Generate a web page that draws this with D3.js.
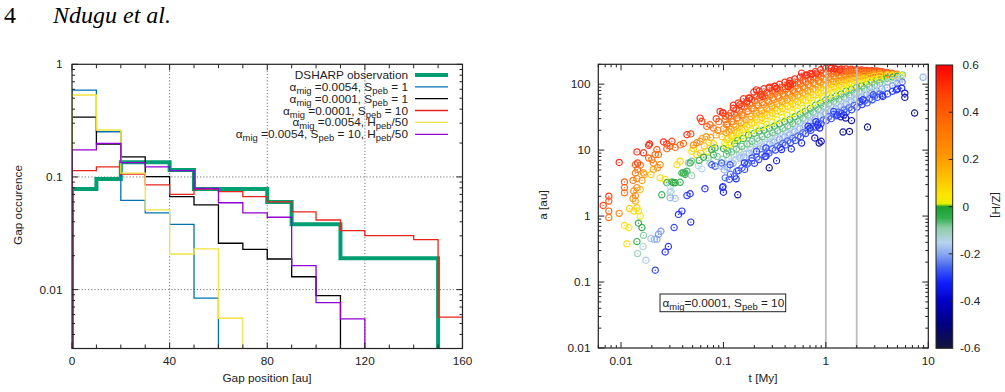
<!DOCTYPE html>
<html>
<head>
<meta charset="utf-8">
<script src="https://cdn.jsdelivr.net/npm/d3@7"></script>
<style>
  body { margin: 0; background: #fff; }
  svg { display: block; }
  text { font-family: "Liberation Sans", Arial, sans-serif; fill: #222; white-space: pre; }
</style>
</head>
<body>
<div id="chart"></div>
<script>
// ---------- left panel: gap occurrence histograms ----------
const gapEdges = [0, 10, 20, 30, 40, 50, 60, 70, 80, 90, 100, 110, 120, 130, 140, 150, 160];
const dsharpOcc      = [0.078, 0.096, 0.135, 0.135, 0.115, 0.078, 0.078, 0.078, 0.060, 0.038, 0.038, 0.019, 0.019, 0.019, 0.019, 0];
const occA0054S1     = [0.59, 0.252, 0.062, 0.048, 0.038, 0.0084, 0, 0, 0, 0, 0, 0, 0, 0, 0, 0];
const occA0001S1     = [0.339, 0.196, 0.151, 0.1006, 0.0669, 0.0565, 0.0258, 0.0228, 0.0187, 0.013, 0.00885, 0, 0, 0, 0, 0];
const occA0001S10    = [0.114, 0.123, 0.106, 0.085, 0.070, 0.078, 0.074, 0.067, 0.060, 0.049, 0.0415, 0.0334, 0.0301, 0.0301, 0.0278, 0.0057];
const occA0054H50    = [0.534, 0.261, 0.108, 0.051, 0.0207, 0.023, 0.00557, 0, 0, 0, 0, 0, 0, 0, 0, 0];
const occA0054S10H50 = [0.174, 0.199, 0.134, 0.123, 0.114, 0.079, 0.059, 0.048, 0.0439, 0.0163, 0.00767, 0.0055, 0, 0, 0, 0];

const occSeries = [dsharpOcc, occA0054S1, occA0001S1, occA0001S10, occA0054H50, occA0054S10H50];
const occColors = ['#009e73', '#0072b2', '#000000', '#e8241a', '#f0e442', '#9400d3'];
const occWidths = [4, 1.3, 1.3, 1.3, 1.3, 1.3];
// legend labels: [text, isSubscript]
const occNames = [
  [['DSHARP observation']],
  [['α'], ['mig', 1], [' =0.0054, S'], ['peb', 1], [' = 1']],
  [['α'], ['mig', 1], [' =0.0001, S'], ['peb', 1], [' = 1']],
  [['α'], ['mig', 1], [' =0.0001, S'], ['peb', 1], [' = 10']],
  [['α'], ['mig', 1], [' =0.0054, H'], ['peb', 1], ['/50']],
  [['α'], ['mig', 1], [' =0.0054, S'], ['peb', 1], [' = 10, H'], ['peb', 1], ['/50']]
];
const gapTickLabels = [0, 40, 80, 120, 160];
const occTickLabels = [1, 0.1, 0.01];

// ---------- right panel: a vs t coloured by [Z/H] ----------
// [t (My), a (au), [Z/H]]
const sparsePts = [
  [0.0067,1.45,0.5],[0.0076,2.0,0.52],[0.0076,1.69,0.45],[0.0076,1.19,0.42],[0.0076,0.95,0.38],
  [0.0096,1.1,0.32],[0.0096,6.5,0.55],[0.0108,3.3,0.45],[0.0108,2.7,0.42],[0.0108,2.25,0.38],
  [0.0108,0.72,0.06],[0.0119,0.67,0.05],[0.0114,0.38,0.06],[0.0121,1.3,0.12],[0.0133,1.19,0.08],
  [0.0143,1.34,0.1],[0.0138,1.69,0.18],[0.0131,1.85,0.25],[0.0138,2.05,0.28],[0.0133,2.4,0.3],
  [0.0143,2.7,0.3],[0.0154,2.53,0.15],[0.0131,3.47,0.35],[0.0143,3.7,0.3],[0.016,3.47,0.22],
  [0.0138,4.5,0.35],[0.0145,5.1,0.38],[0.0166,4.5,0.25],[0.0169,4.27,0.2],[0.0138,6.0,0.45],
  [0.0145,6.4,0.5],[0.0154,5.9,0.4],[0.0166,9.1,0.55],[0.0143,9.4,0.55],[0.019,12.4,0.55],
  [0.0186,11.8,0.55],[0.0224,10.2,0.45],[0.0216,8.6,0.38],[0.0232,8.6,0.4],[0.0186,7.6,0.42],
  [0.02,7.2,0.35],[0.0207,6.4,0.3],[0.0196,4.27,0.12],[0.0207,5.1,0.2],[0.0227,5.4,0.25],
  [0.0241,6.0,0.3],[0.026,13.3,0.55],[0.028,12.4,0.5],[0.0314,13.6,0.52],[0.028,10.5,0.42],
  [0.0302,11.5,0.45],[0.0338,11.0,0.4],[0.0378,12.0,0.38],[0.0407,12.6,0.4],[0.0241,3.8,0.08],
  [0.027,3.58,0.06],[0.028,3.2,-0.02],[0.0302,2.84,-0.15],[0.0314,3.3,-0.03],[0.0338,3.2,0.0],
  [0.0351,6.0,0.08],[0.0378,6.8,0.1],[0.0407,4.5,-0.02],[0.044,4.8,-0.04],[0.0423,4.27,-0.03],
  [0.0455,6.4,-0.1],[0.049,6.8,-0.08],[0.049,9.6,0.05],[0.051,10.5,0.08],[0.0154,1.0,0.05],
  [0.0148,1.19,0.06],[0.0148,0.78,-0.02],[0.016,0.67,-0.01],[0.0143,0.41,-0.03],[0.0166,0.51,-0.08],
  [0.0145,0.27,-0.1],[0.0164,0.345,-0.13],[0.0175,0.214,-0.17],[0.0196,0.456,-0.17],[0.0212,0.445,-0.19],
  [0.0224,0.445,-0.2],[0.0232,0.53,-0.22],[0.0245,0.59,-0.22],[0.0216,0.151,-0.3],[0.027,0.286,-0.32],
  [0.029,0.345,-0.32],[0.033,0.67,-0.3],[0.0364,1.06,-0.32],[0.0393,1.19,-0.33],[0.048,0.81,-0.34],
  [0.0338,1.85,-0.18],[0.0302,1.9,-0.2],[0.044,2.05,-0.3],[0.0473,2.18,-0.32],[0.066,2.6,-0.32],
  [0.025,2.1,-0.03],[0.0302,2.3,-0.12],[0.031,2.4,-0.15],[0.0325,3.2,0.0],[0.0378,3.25,-0.02],
  [0.0393,4.5,-0.03],[0.0423,4.5,-0.05],[0.0473,6.4,-0.02],[0.049,4.1,-0.1],[0.057,5.8,-0.14],
  [0.0615,5.2,-0.15],[0.071,7.6,-0.08],[0.074,6.4,-0.12],[0.0769,6.0,-0.28],[0.0828,5.7,-0.3],
  [0.044,17.1,0.55],[0.048,17.6,0.5],[0.0592,30.6,0.55],[0.0615,27.2,0.52],[0.0688,22.9,0.42],
  [0.074,24.3,0.4],[0.0798,21.6,0.38],[0.051,12.0,0.3],[0.055,12.9,0.3],[0.0592,13.6,0.28],
  [0.062,15,0.2],[0.068,16,0.25],[0.075,15.5,0.22],[0.0688,9.6,0.02],[0.0769,10.2,0.0],
  [0.0828,10.8,-0.02],[0.09,6.0,-0.15],[0.095,5.7,-0.18],[0.0927,38.6,0.55],[0.0998,36.5,0.55],
  [0.055,8.5,0.1],[0.06,9,0.12],[0.065,11.5,0.15],[0.072,13,0.1],[0.08,12.5,0.08],
  [0.085,17,0.2],[0.088,20,0.3],[0.09,27,0.42],[0.085,30,0.5],[0.058,7.0,-0.03],
  [0.064,7.8,-0.02],[0.08,8.5,-0.05],[0.087,8.0,-0.08]
];
const bandPts = [
  [0.098,37,0.55],[0.104,29,0.42],[0.1,21,0.3],[0.097,16,0.15],[0.103,13,0.05],[0.1,10.5,-0.02],[0.097,7.2,-0.1],[0.102,5,-0.2],[0.099,2.8,-0.32],
  [0.113,33,0.5],[0.11,25,0.35],[0.114,19,0.22],[0.111,15,0.1],[0.115,12,0.03],[0.11,9.8,-0.05],[0.113,7.5,-0.14],[0.11,5.5,-0.22],[0.114,3.6,-0.3],
  [0.125,48,0.55],[0.128,35,0.45],[0.124,27,0.3],[0.127,20,0.18],[0.125,16.5,0.06],[0.129,12.6,-0.02],[0.126,8.5,-0.12],[0.124,6.3,-0.2],[0.128,4,-0.3],
  [0.14,52,0.52],[0.143,40,0.4],[0.139,31,0.28],[0.144,23,0.15],[0.141,18,0.05],[0.138,14,-0.02],[0.142,10,-0.1],[0.145,7.6,-0.2],[0.14,4.9,-0.3],
  [0.157,60,0.55],[0.16,45,0.42],[0.155,33,0.28],[0.159,25,0.15],[0.162,21,0.05],[0.156,15,-0.02],[0.16,10.5,-0.12],[0.158,7.8,-0.2],[0.161,5.1,-0.3],
  [0.177,62,0.5],[0.18,50,0.4],[0.175,39,0.3],[0.182,29,0.16],[0.178,24,0.06],[0.176,17,-0.01],[0.181,12.5,-0.11],[0.179,9,-0.2],[0.174,6.4,-0.28],
  [0.198,76,0.55],[0.202,56,0.42],[0.197,42,0.28],[0.204,32,0.15],[0.2,26,0.05],[0.199,18,-0.02],[0.203,12.6,-0.12],[0.198,9.5,-0.2],[0.201,6.3,-0.3],
  [0.223,79,0.52],[0.227,62,0.4],[0.22,47,0.26],[0.226,35,0.14],[0.229,29,0.05],[0.222,19.5,-0.03],[0.225,14,-0.12],[0.228,10.5,-0.22],[0.221,7.2,-0.3],
  [0.248,85,0.55],[0.253,66,0.42],[0.247,49,0.28],[0.251,37,0.15],[0.255,30,0.05],[0.249,20,-0.02],[0.252,14.8,-0.12],[0.246,11.2,-0.2],[0.254,8,-0.3],
  [0.28,90,0.53],[0.285,70,0.4],[0.279,54,0.3],[0.284,41,0.15],[0.288,33,0.04],[0.281,21.5,-0.02],[0.286,16,-0.13],[0.283,12.3,-0.21],[0.278,9,-0.3],
  [0.315,93,0.55],[0.32,76,0.42],[0.312,58,0.28],[0.318,44,0.15],[0.322,35.5,0.05],[0.314,23,-0.02],[0.319,17,-0.12],[0.313,13.2,-0.2],[0.321,10,-0.3],
  [0.353,100,0.54],[0.358,80,0.4],[0.351,62,0.28],[0.356,47,0.15],[0.36,38,0.05],[0.352,25,-0.02],[0.357,18.5,-0.12],[0.354,14.5,-0.22],[0.359,11,-0.3],
  [0.398,107,0.55],[0.402,85,0.42],[0.396,66,0.28],[0.404,51,0.15],[0.4,42,0.05],[0.397,27,-0.02],[0.403,20,-0.12],[0.399,15.8,-0.2],[0.401,12,-0.3],
  [0.445,113,0.55],[0.45,90,0.4],[0.443,71,0.3],[0.448,56,0.15],[0.452,45,0.05],[0.446,29,-0.02],[0.449,22,-0.13],[0.444,17,-0.21],[0.451,13,-0.3],
  [0.497,120,0.55],[0.503,95,0.42],[0.495,76,0.28],[0.501,60,0.15],[0.505,48,0.05],[0.499,32,-0.02],[0.502,24,-0.12],[0.496,19,-0.2],[0.504,14,-0.3],
  [0.56,127,0.55],[0.565,102,0.42],[0.558,81,0.28],[0.563,65,0.15],[0.567,52,0.05],[0.561,35,-0.02],[0.564,26,-0.12],[0.559,21,-0.2],[0.566,16,-0.3],
  [0.628,135,0.55],[0.633,110,0.42],[0.625,87,0.28],[0.631,71,0.15],[0.635,56,0.05],[0.629,39,-0.02],[0.632,29.5,-0.12],[0.627,23.5,-0.2],[0.634,17.8,-0.3],
  [0.705,145,0.55],[0.71,118,0.42],[0.703,93,0.28],[0.709,76,0.15],[0.712,62,0.05],[0.706,43,-0.02],[0.711,33,-0.12],[0.704,26,-0.2],[0.713,20,-0.3],
  [0.79,155,0.55],[0.797,126,0.42],[0.788,100,0.28],[0.795,83,0.15],[0.8,68,0.05],[0.792,48,-0.02],[0.796,36,-0.12],[0.789,29.5,-0.2],[0.798,22.4,-0.3],
  [0.888,165,0.55],[0.894,133,0.42],[0.886,107,0.28],[0.892,89,0.15],[0.897,73,0.05],[0.889,52,-0.02],[0.893,40,-0.12],[0.887,33,-0.2],[0.895,25,-0.3],
  [0.995,174,0.55],[1.005,141,0.42],[0.99,115,0.28],[1.0,95,0.15],[1.01,79,0.05],[0.998,57.5,-0.02],[1.003,44.7,-0.12],[0.993,36,-0.2],[1.008,28,-0.3],
  [1.12,172,0.55],[1.125,145,0.42],[1.115,119,0.28],[1.122,99,0.15],[1.128,84,0.05],[1.118,62,-0.02],[1.123,48,-0.12],[1.116,39,-0.2],[1.127,30,-0.3],
  [1.255,170,0.55],[1.262,148,0.42],[1.25,123,0.28],[1.258,105,0.15],[1.265,89,0.05],[1.252,66,-0.02],[1.26,52,-0.12],[1.254,42.7,-0.2],[1.264,33,-0.3],
  [1.41,170,0.55],[1.415,152,0.42],[1.405,128,0.28],[1.412,110,0.15],[1.42,94,0.05],[1.407,71,-0.02],[1.413,56,-0.12],[1.408,46,-0.2],[1.418,36,-0.3],
  [1.575,170,0.55],[1.585,155,0.42],[1.57,132,0.28],[1.58,115,0.15],[1.59,100,0.05],[1.578,78,-0.02],[1.583,60,-0.12],[1.573,50,-0.2],[1.588,38,-0.3],
  [1.77,168,0.55],[1.78,157,0.42],[1.765,137,0.28],[1.775,120,0.15],[1.785,106,0.05],[1.772,83,-0.02],[1.778,66,-0.12],[1.768,55,-0.2],[1.783,41,-0.3],
  [1.99,166,0.55],[2.01,158,0.42],[1.98,141,0.28],[2.0,126,0.15],[2.02,112,0.05],[1.995,89,-0.02],[2.005,71,-0.12],[1.985,60,-0.2],[2.015,45,-0.3],
  [2.23,164,0.55],[2.25,157,0.42],[2.22,141,0.28],[2.24,129,0.15],[2.26,117,0.05],[2.235,94,-0.02],[2.245,76,-0.12],[2.225,64,-0.2],[2.255,49,-0.3],
  [2.5,162,0.55],[2.52,155,0.42],[2.49,141,0.28],[2.51,132,0.15],[2.53,123,0.05],[2.505,100,-0.02],[2.515,83,-0.12],[2.495,69,-0.2],[2.525,52,-0.3],
  [2.8,160,0.55],[2.83,153,0.42],[2.79,143,0.28],[2.82,137,0.15],[2.84,127,0.05],[2.81,107,-0.02],[2.825,89,-0.12],[2.8,74,-0.2],[2.835,58,-0.3],
  [3.14,158,0.55],[3.17,151,0.42],[3.13,145,0.28],[3.16,141,0.15],[3.18,132,0.05],[3.15,115,-0.02],[3.165,95,-0.12],[3.14,79,-0.2],[3.175,63,-0.3],
  [3.53,155,0.52],[3.56,148,0.4],[3.52,143,0.28],[3.55,140,0.15],[3.57,134,0.05],[3.54,120,-0.02],[3.555,102,-0.12],[3.53,85,-0.2],[3.565,68,-0.3],
  [3.96,151,0.5],[4.0,146,0.4],[3.95,142,0.28],[3.98,139,0.15],[4.01,135,0.05],[3.97,123,-0.02],[3.985,107,-0.12],[3.96,89,-0.2],[4.0,71,-0.3],
  [4.45,146,0.48],[4.48,141,0.3],[4.44,138,0.15],[4.47,136,0.05],[4.5,128,-0.02],[4.46,115,-0.12],[4.49,95,-0.22],[4.46,78,-0.3],
  [4.98,141,0.4],[5.02,138,0.2],[4.96,136,0.05],[5.0,132,-0.02],[5.03,120,-0.12],[4.99,102,-0.22],[5.01,85,-0.3],
  [5.6,138,-0.08],[5.5,134,0.02],[5.45,125,-0.15],[5.55,108,-0.25]
];
const bandMidPts = [
  [0.105,32.7,0.48],[0.107,24.3,0.35],[0.106,18.2,0.22],[0.108,14.5,0.1],[0.105,11.7,0.02],[0.107,8.6,-0.07],[0.106,6.0,-0.16],[0.104,3.8,-0.26],
  [0.118,36.7,0.48],[0.12,27.2,0.35],[0.119,20.4,0.22],[0.121,16.2,0.1],[0.118,13,0.02],[0.12,9.4,-0.07],[0.119,6.6,-0.16],[0.117,4.3,-0.26],
  [0.133,41.2,0.48],[0.135,30.5,0.35],[0.132,22.9,0.22],[0.134,18.2,0.1],[0.131,14.5,0.02],[0.134,10.4,-0.07],[0.132,7.3,-0.16],[0.135,4.8,-0.26],
  [0.15,46.2,0.48],[0.151,34.3,0.35],[0.148,25.7,0.22],[0.152,20.4,0.1],[0.149,15.8,0.02],[0.151,11.4,-0.07],[0.149,8.1,-0.16],[0.152,5.4,-0.26],
  [0.168,51.9,0.48],[0.17,38.5,0.35],[0.166,28.8,0.22],[0.169,22.9,0.1],[0.167,17.6,0.02],[0.17,12.4,-0.07],[0.167,9.0,-0.16],[0.169,6.1,-0.26],
  [0.188,58.2,0.48],[0.19,43.2,0.35],[0.186,32.4,0.22],[0.189,25.7,0.1],[0.187,19.5,0.02],[0.19,13.6,-0.07],[0.187,10,-0.16],[0.189,6.9,-0.26],
  [0.211,65.3,0.48],[0.213,48.4,0.35],[0.209,36.3,0.22],[0.212,28.8,0.1],[0.21,21.6,0.02],[0.213,15,-0.07],[0.21,11,-0.16],[0.212,7.8,-0.26],
  [0.237,70,0.48],[0.239,52.5,0.35],[0.235,39.4,0.22],[0.238,30.9,0.1],[0.236,22.9,0.02],[0.239,16,-0.07],[0.236,11.9,-0.16],[0.238,8.5,-0.26],
  [0.266,75,0.48],[0.268,56.9,0.35],[0.264,42.7,0.22],[0.267,33.5,0.1],[0.265,24.5,0.02],[0.268,17.2,-0.07],[0.265,12.9,-0.16],[0.267,9.4,-0.26],
  [0.299,79.4,0.48],[0.301,61.7,0.35],[0.297,46.2,0.22],[0.3,36.3,0.1],[0.298,26.3,0.02],[0.301,18.4,-0.07],[0.298,13.8,-0.16],[0.3,10.5,-0.26],
  [0.335,84.1,0.48],[0.338,66,0.35],[0.333,50.1,0.22],[0.336,39.4,0.1],[0.334,28.5,0.02],[0.337,19.7,-0.07],[0.334,15,-0.16],[0.336,11.5,-0.26],
  [0.376,89.7,0.48],[0.379,70.5,0.35],[0.374,54,0.22],[0.377,42.7,0.1],[0.375,30.9,0.02],[0.378,21.4,-0.07],[0.375,16.3,-0.16],[0.377,12.6,-0.26],
  [0.422,95.5,0.48],[0.425,75,0.35],[0.42,58.2,0.22],[0.423,46.2,0.1],[0.421,33.5,0.02],[0.424,23.2,-0.07],[0.421,17.8,-0.16],[0.423,13.8,-0.26],
  [0.473,101,0.48],[0.476,80,0.35],[0.471,62.8,0.22],[0.474,49.9,0.1],[0.472,36.1,0.02],[0.475,25.3,-0.07],[0.472,19.5,-0.16],[0.474,15.1,-0.26],
  [0.531,107,0.48],[0.534,85,0.35],[0.529,67.6,0.22],[0.532,53.7,0.1],[0.53,38.9,0.02],[0.533,27.5,-0.07],[0.53,21.4,-0.16],[0.532,16.4,-0.26],
  [0.596,114,0.48],[0.599,91,0.35],[0.594,73,0.22],[0.597,58.2,0.1],[0.595,42.7,0.02],[0.598,30.5,-0.07],[0.595,23.7,-0.16],[0.597,18.3,-0.26],
  [0.668,122,0.48],[0.671,98,0.35],[0.666,78.5,0.22],[0.669,63,0.1],[0.667,46.8,0.02],[0.67,33.9,-0.07],[0.667,26.3,-0.16],[0.669,20.4,-0.26],
  [0.75,130,0.48],[0.753,105,0.35],[0.748,84.7,0.22],[0.751,68.9,0.1],[0.749,51.6,0.02],[0.752,37.6,-0.07],[0.749,29.4,-0.16],[0.751,22.9,-0.26],
  [0.841,140,0.48],[0.845,112,0.35],[0.838,91,0.22],[0.842,75,0.1],[0.84,56.9,0.02],[0.844,41.7,-0.07],[0.84,32.7,-0.16],[0.843,25.7,-0.26],
  [0.944,148,0.48],[0.948,120,0.35],[0.941,98,0.22],[0.945,81,0.1],[0.943,62,0.02],[0.947,46,-0.07],[0.943,36.3,-0.16],[0.946,28.7,-0.26],
  [1.06,157,0.48],[1.065,127,0.35],[1.057,105,0.22],[1.062,87,0.1],[1.059,67.6,0.02],[1.064,50.7,-0.07],[1.059,40.3,-0.16],[1.062,32,-0.26],
  [1.19,158,0.48],[1.195,131,0.35],[1.186,109,0.22],[1.192,92,0.1],[1.188,72,0.02],[1.194,54.7,-0.07],[1.188,43.7,-0.16],[1.192,34.7,-0.26],
  [1.33,158,0.48],[1.336,135,0.35],[1.327,114,0.22],[1.333,97,0.1],[1.329,77,0.02],[1.335,59,-0.07],[1.329,47.3,-0.16],[1.333,37.6,-0.26],
  [1.5,160,0.48],[1.506,139,0.35],[1.496,118,0.22],[1.503,102,0.1],[1.498,82,0.02],[1.505,63.5,-0.07],[1.498,51,-0.16],[1.503,40.5,-0.26],
  [1.68,162,0.48],[1.687,143,0.35],[1.676,123,0.22],[1.683,107,0.1],[1.678,88,0.02],[1.686,68,-0.07],[1.678,55,-0.16],[1.683,43.7,-0.26],
  [1.88,162,0.48],[1.888,146,0.35],[1.876,128,0.22],[1.884,113,0.1],[1.878,94,0.02],[1.886,74,-0.07],[1.878,60,-0.16],[1.884,47.6,-0.26],
  [2.11,162,0.48],[2.12,150,0.35],[2.105,133,0.22],[2.115,119,0.1],[2.108,100,0.02],[2.118,79,-0.07],[2.108,65,-0.16],[2.115,52,-0.26],
  [2.37,160,0.48],[2.38,149,0.35],[2.365,135,0.22],[2.375,123,0.1],[2.368,105,0.02],[2.378,85,-0.07],[2.368,70.5,-0.16],[2.375,56,-0.26],
  [2.66,158,0.48],[2.67,148,0.35],[2.655,136,0.22],[2.665,127,0.1],[2.658,111,0.02],[2.668,91,-0.07],[2.658,76,-0.16],[2.665,60,-0.26],
  [2.98,157,0.48],[2.99,148,0.35],[2.975,140,0.22],[2.985,132,0.1],[2.978,117,0.02],[2.988,98,-0.07],[2.978,81,-0.16],[2.985,65,-0.26],
  [3.35,155,0.48],[3.36,148,0.35],[3.345,143,0.22],[3.355,136,0.1],[3.348,123,0.02],[3.358,105,-0.07],[3.348,87,-0.16],[3.355,71,-0.26]
];
const bluePts = [
  [0.28,5.4,-0.48],[0.138,2.1,-0.45],[0.133,3.67,-0.33],[0.1,2.3,-0.35],[0.098,2.7,-0.32],
  [0.33,6.9,-0.35],[0.26,8.1,-0.33],[0.19,7.6,-0.3],[0.16,6.4,-0.32],[0.116,6.0,-0.3],
  [0.096,6.4,-0.28],[0.21,9.6,-0.3],[0.26,10.8,-0.3],[0.37,10.2,-0.33],[0.46,10.4,-0.35],
  [0.58,12.8,-0.35],[0.78,15.3,-0.45],[0.86,12.8,-0.42],[0.9,13.6,-0.45],[0.8,27,-0.33],
  [0.83,24,-0.35],[0.87,21.6,-0.36],[0.67,23,-0.33],[0.7,21.6,-0.34],[1.19,38.5,-0.3],
  [1.3,34,-0.32],[1.4,32,-0.35],[1.5,34,-0.33],[1.56,30.6,-0.45],[1.78,28,-0.47],
  [2.14,54.6,-0.3],[2.3,58,-0.32],[2.9,69,-0.3],[3.6,65,-0.33],[4.9,82,-0.33],
  [5.5,87,-0.35],[5.9,73,-0.4],[5.9,63,-0.42],[5.0,109,-0.15],[8.9,127,-0.2],
  [7.35,36.5,-0.5],[2.55,22.4,-0.5],[1.7,19.2,-0.48],[1.47,18.8,-0.5]
];
const redTopPts = [
  [1.13,178,0.58],[1.22,170,0.57],[1.37,164,0.55],[0.58,147,0.58],[0.65,138,0.56],
  [0.73,142,0.57],[0.81,147,0.56],[0.44,103,0.57],[0.45,97.5,0.55],[0.43,92,0.55],
  [0.21,82,0.58],[0.28,87,0.56],[0.32,92,0.56],[0.33,87,0.55],[0.17,55,0.55],
  [0.18,61,0.57],[0.145,49,0.55],[0.125,43,0.55],[0.23,69,0.55],[0.24,65,0.53]
];
const markTimes = [1, 2];
const zStops  = [-0.6, -0.5, -0.4, -0.32, -0.26, -0.2, -0.15, -0.09, -0.05, 0, 0.012, 0.05, 0.15, 0.22, 0.36, 0.47, 0.6];
const zColors = ['#15153a', '#000080', '#0000c8', '#1020ff', '#4060f0', '#88a8f0', '#b8d4ec', '#8ccca8', '#33b050', '#1aa030',
                 '#e8f000', '#ffe400', '#ffb400', '#ff9400', '#ff6a00', '#ff4400', '#ff0000'];
const zTickLabels = [0.6, 0.4, 0.2, 0, -0.2, -0.4, -0.6];

// ---------- drawing ----------
const width = 1005, height = 392;
const svg = d3.select('#chart').append('svg').attr('width', width).attr('height', height);

svg.append('text').attr('x', 4).attr('y', 23).attr('font-size', 24)
  .style('font-family', '"Liberation Serif", "Times New Roman", serif').style('fill', '#000').text('4');
svg.append('text').attr('x', 53).attr('y', 23).attr('font-size', 24).attr('font-style', 'italic')
  .style('font-family', '"Liberation Serif", "Times New Roman", serif').style('fill', '#000').text('Ndugu et al.');

function rich(sel, parts, fs) {
  let shift = 0;
  parts.forEach(([s, sub]) => {
    const want = sub ? 3 : 0;
    sel.append('tspan').attr('dy', want - shift).attr('font-size', sub ? fs * 0.8 : fs).text(s);
    shift = want;
  });
}
const fmt = d => String(+d.toPrecision(6));

// left panel
const lb = { left: 72, right: 462.5, top: 64.3, bottom: 348.5 };
const x1 = d3.scaleLinear().domain([0, 160]).range([lb.left, lb.right]);
const y1 = d3.scaleLog().domain([0.003, 1]).range([lb.bottom, lb.top]);
const left = svg.append('g');

left.append('clipPath').attr('id', 'clipL').append('rect')
  .attr('x', lb.left).attr('y', lb.top).attr('width', lb.right - lb.left).attr('height', lb.bottom - lb.top);

const grid = left.append('g').attr('stroke', '#777').attr('stroke-width', 1).attr('stroke-dasharray', '1.2,2');
grid.selectAll('line.v').data([40, 80, 120]).join('line')
  .attr('x1', d => x1(d)).attr('x2', d => x1(d)).attr('y1', lb.top).attr('y2', lb.bottom);
grid.selectAll('line.h').data([0.1, 0.01]).join('line').attr('class', 'h')
  .attr('x1', lb.left).attr('x2', lb.right).attr('y1', d => y1(d)).attr('y2', d => y1(d));

const stepLine = d3.line().x(d => x1(d[0])).y(d => y1(Math.max(d[1], 0.003)));
function stepPoints(vals) {
  let last = vals.length - 1;
  while (last > 0 && vals[last] === 0) last--;
  const pts = [[0, 0.003]];
  for (let i = 0; i <= last; i++) pts.push([gapEdges[i], vals[i]], [gapEdges[i + 1], vals[i]]);
  pts.push([gapEdges[last + 1], 0.003]);
  return pts;
}
left.append('g').attr('clip-path', 'url(#clipL)')
  .selectAll('path').data(occSeries).join('path')
  .attr('d', d => stepLine(stepPoints(d)))
  .attr('fill', 'none')
  .attr('stroke', (d, i) => occColors[i])
  .attr('stroke-width', (d, i) => occWidths[i]);

// ticks left panel
const tk1 = left.append('g').attr('stroke', '#222').attr('stroke-width', 1);
gapEdges.forEach(v => {
  const len = gapTickLabels.includes(v) ? 6 : 4;
  tk1.append('line').attr('x1', x1(v)).attr('x2', x1(v)).attr('y1', lb.bottom).attr('y2', lb.bottom - len);
  tk1.append('line').attr('x1', x1(v)).attr('x2', x1(v)).attr('y1', lb.top).attr('y2', lb.top + len);
});
y1.ticks().forEach(v => {
  const len = occTickLabels.includes(+v.toPrecision(3)) ? 6 : 3;
  tk1.append('line').attr('x1', lb.left).attr('x2', lb.left + len).attr('y1', y1(v)).attr('y2', y1(v));
  tk1.append('line').attr('x1', lb.right).attr('x2', lb.right - len).attr('y1', y1(v)).attr('y2', y1(v));
});
left.append('rect').attr('x', lb.left).attr('y', lb.top).attr('width', lb.right - lb.left)
  .attr('height', lb.bottom - lb.top).attr('fill', 'none').attr('stroke', '#222').attr('stroke-width', 1.2);

left.selectAll('text.xl').data(gapTickLabels).join('text').attr('class', 'xl')
  .attr('x', d => x1(d)).attr('y', 365).attr('text-anchor', 'middle').attr('font-size', 11.8).text(d => d);
left.selectAll('text.yl').data(occTickLabels).join('text').attr('class', 'yl')
  .attr('x', 62.5).attr('y', d => y1(d) + 4).attr('text-anchor', 'end').attr('font-size', 11.8).text(fmt);
left.append('text').attr('transform', 'translate(21.5,205) rotate(-90)').attr('text-anchor', 'middle')
  .attr('font-size', 11.8).text('Gap occurence');
left.append('text').attr('x', 267).attr('y', 382).attr('text-anchor', 'middle')
  .attr('font-size', 11.8).text('Gap position [au]');

// legend
const legRows = [75, 86.9, 98.7, 110.5, 122.4, 134.3];
occNames.forEach((parts, i) => {
  const t = left.append('text').attr('x', 408).attr('y', legRows[i] + 4).attr('text-anchor', 'end');
  rich(t, parts, 11.8);
  left.append('line').attr('x1', 415).attr('x2', 448).attr('y1', legRows[i]).attr('y2', legRows[i])
    .attr('stroke', occColors[i]).attr('stroke-width', occWidths[i]);
});

// right panel
const rb = { left: 598.3, right: 928.3, top: 64.3, bottom: 348 };
const x2 = d3.scaleLog().domain([0.006, 10]).range([rb.left, rb.right]);
const y2 = d3.scaleLog().domain([0.01, 200]).range([rb.bottom, rb.top]);
const zColor = d3.scaleLinear().domain(zStops).range(zColors).clamp(true);
const right = svg.append('g');
right.append('clipPath').attr('id', 'clipR').append('rect')
  .attr('x', rb.left).attr('y', rb.top).attr('width', rb.right - rb.left).attr('height', rb.bottom - rb.top);

const allPts = sparsePts.concat(bandPts, bandMidPts, bluePts, redTopPts);
const ptG = right.append('g').attr('clip-path', 'url(#clipR)').attr('opacity', 0.9);
const pt = ptG.selectAll('g').data(allPts).join('g')
  .attr('transform', d => `translate(${x2(d[0])},${y2(d[1])})`);
pt.append('circle').attr('r', 3.1).attr('fill', 'none').attr('stroke', d => zColor(d[2])).attr('stroke-width', 1.2);
pt.append('circle').attr('r', 0.7).attr('fill', d => zColor(d[2]));

right.selectAll('line.mark').data(markTimes).join('line').attr('class', 'mark')
  .attr('x1', d => x2(d)).attr('x2', d => x2(d)).attr('y1', rb.top).attr('y2', rb.bottom)
  .attr('stroke', '#bdbdbd').attr('stroke-width', 1.8);

const tk2 = right.append('g').attr('stroke', '#222').attr('stroke-width', 1);
const isPow10 = v => Math.abs(Math.log10(v) - Math.round(Math.log10(v))) < 1e-6;
x2.ticks().forEach(v => {
  const len = isPow10(v) ? 6 : 3;
  tk2.append('line').attr('x1', x2(v)).attr('x2', x2(v)).attr('y1', rb.bottom).attr('y2', rb.bottom - len);
  tk2.append('line').attr('x1', x2(v)).attr('x2', x2(v)).attr('y1', rb.top).attr('y2', rb.top + len);
});
y2.ticks().forEach(v => {
  const len = isPow10(v) ? 6 : 3;
  tk2.append('line').attr('x1', rb.left).attr('x2', rb.left + len).attr('y1', y2(v)).attr('y2', y2(v));
  tk2.append('line').attr('x1', rb.right).attr('x2', rb.right - len).attr('y1', y2(v)).attr('y2', y2(v));
});
right.append('rect').attr('x', rb.left).attr('y', rb.top).attr('width', rb.right - rb.left)
  .attr('height', rb.bottom - rb.top).attr('fill', 'none').attr('stroke', '#222').attr('stroke-width', 1.2);

right.selectAll('text.xl').data(x2.ticks().filter(isPow10)).join('text').attr('class', 'xl')
  .attr('x', d => x2(d)).attr('y', 365).attr('text-anchor', 'middle').attr('font-size', 11.8).text(fmt);
right.selectAll('text.yl').data(y2.ticks().filter(isPow10)).join('text').attr('class', 'yl')
  .attr('x', 590.5).attr('y', d => y2(d) + 4).attr('text-anchor', 'end').attr('font-size', 11.8).text(fmt);
right.append('text').attr('transform', 'translate(547,205) rotate(-90)').attr('text-anchor', 'middle')
  .attr('font-size', 11.8).text('a [au]');
right.append('text').attr('x', 763).attr('y', 382).attr('text-anchor', 'middle')
  .attr('font-size', 11.8).text('t [My]');

// label box
right.append('rect').attr('x', 660).attr('y', 294).attr('width', 125.7).attr('height', 17.7)
  .attr('fill', '#fff').attr('stroke', '#222').attr('stroke-width', 1);
const boxText = right.append('text').attr('x', 662.5).attr('y', 306.5);
rich(boxText, [['α'], ['mig', 1], ['=0.0001, S'], ['peb', 1], [' = 10']], 11.8);

// colour bar
const cb = { left: 936, right: 952.7, top: 65, bottom: 348.3 };
const zScale = d3.scaleLinear().domain([-0.6, 0.6]).range([cb.bottom, cb.top]);
const grad = svg.append('defs').append('linearGradient').attr('id', 'zgrad')
  .attr('x1', 0).attr('y1', 0).attr('x2', 0).attr('y2', 1);
grad.selectAll('stop').data(zStops.slice().reverse()).join('stop')
  .attr('offset', d => (0.6 - d) / 1.2).attr('stop-color', d => zColor(d));
svg.append('rect').attr('x', cb.left).attr('y', cb.top).attr('width', cb.right - cb.left)
  .attr('height', cb.bottom - cb.top).attr('fill', 'url(#zgrad)').attr('stroke', '#222').attr('stroke-width', 1);
svg.append('g').attr('stroke', '#222').attr('stroke-width', 1)
  .selectAll('line').data(zTickLabels.slice(1, -1)).join('line')
  .attr('x1', cb.right - 4).attr('x2', cb.right).attr('y1', d => zScale(d)).attr('y2', d => zScale(d));
svg.selectAll('text.zl').data(zTickLabels).join('text').attr('class', 'zl')
  .attr('x', d => d < 0 ? 960 : 962.5).attr('y', d => zScale(d) + 4).attr('font-size', 11.8).text(fmt);
svg.append('text').attr('transform', 'translate(992,205) rotate(90)').attr('text-anchor', 'middle')
  .attr('font-size', 11.8).text('[Z/H]');
</script>
</body>
</html>
